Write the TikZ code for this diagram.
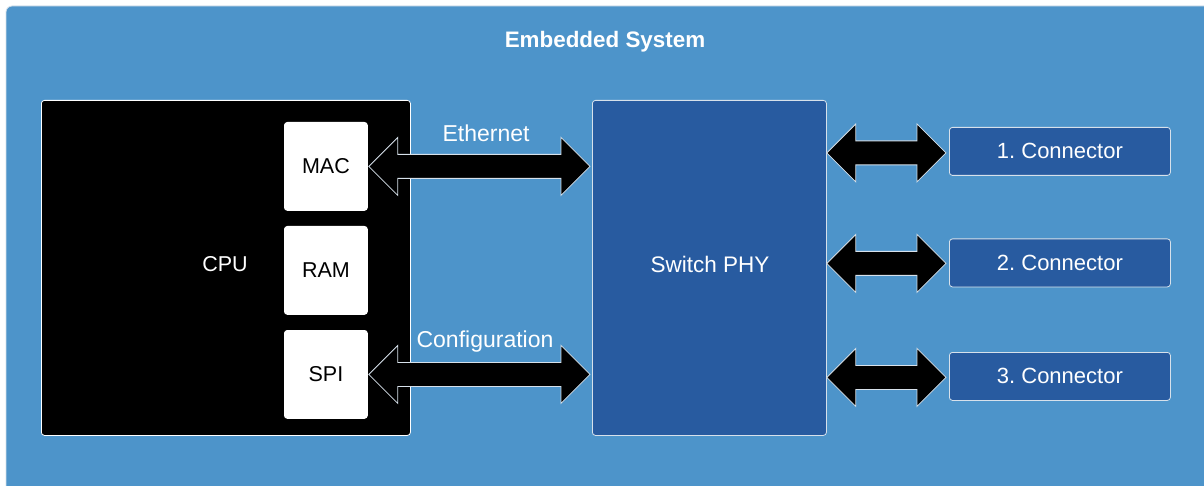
\documentclass[tikz,border=0pt]{standalone}
\usepackage{fontspec}
\setmainfont{Liberation Sans}
\usetikzlibrary{calc}
\definecolor{bgblue}{RGB}{77,148,202}
\definecolor{darkblue}{RGB}{40,91,160}
\definecolor{edge}{RGB}{215,225,235}
\tikzset{
  x=1pt,y=-1pt,
  lbl/.style={font=\fontsize{21.5}{24}\selectfont},
  biglbl/.style={font=\fontsize{23}{26}\selectfont},
  box/.style={draw=edge,line width=0.8pt,rounded corners=3pt,anchor=north west,inner sep=0pt},
  darkbox/.style={box,fill=darkblue,text=white,lbl},
  whitebox/.style={box,fill=white,draw=white,text=black,lbl},
  arrowbody/.style={fill=black,draw=edge,line width=0.8pt,line join=miter},
}
% double arrow polygon between two points (left tip, right tip)
\newcommand\dblarr[2]{%
  \path[arrowbody] let \p1=(#1), \p2=(#2) in
    (\x1,\y1) -- (\x1+29pt,\y1+29pt) -- (\x1+29pt,\y1+12pt) -- (\x2-29pt,\y1+12pt)
    -- (\x2-29pt,\y1+29pt) -- (\x2,\y1) -- (\x2-29pt,\y1-29pt) -- (\x2-29pt,\y1-12pt)
    -- (\x1+29pt,\y1-12pt) -- (\x1+29pt,\y1-29pt) -- cycle;}
\begin{document}
\frenchspacing
\begin{tikzpicture}
\useasboundingbox (0,0) rectangle (1204,486);
\clip (0,0) rectangle (1204,486);
\fill[white] (0,0) rectangle (1204,486);
\draw[fill=bgblue,draw=edge,line width=0.8pt,rounded corners=6pt] (6,6) rectangle (1230,510);
\node[font=\bfseries\fontsize{22.4}{25}\selectfont,text=white] (title) at (605,42) {Embedded System};

% CPU
\node[box,fill=black,draw=white,minimum width=369pt,minimum height=335pt] (cpu) at (41,100) {};
\node[lbl,text=white] (cpulbl) at (225,264) {CPU};
\node[whitebox,minimum width=83pt,minimum height=88pt] (mac) at (284,122) {};
\node[lbl] at (mac.center) {MAC};
\node[whitebox,minimum width=83pt,minimum height=88pt] (ram) at (284,226) {};
\node[lbl] at (ram.center) {RAM};
\node[whitebox,minimum width=83pt,minimum height=88pt] (spi) at (284,330) {};
\node[lbl] at (spi.center) {SPI};

% Switch
\node[darkbox,minimum width=234pt,minimum height=335pt] (sw) at (592,100) {};
\node[font=\fontsize{22.5}{25}\selectfont,text=white] at (710,264) {Switch PHY};

% Connectors
\node[darkbox,minimum width=221pt,minimum height=48pt] (c1) at (949,127) {};
\node[font=\fontsize{22}{25}\selectfont,text=white] at (c1.center) {1. Connector};
\node[darkbox,minimum width=221pt,minimum height=48pt] (c2) at (949,238.5) {};
\node[font=\fontsize{22}{25}\selectfont,text=white] at (c2.center) {2. Connector};
\node[darkbox,minimum width=221pt,minimum height=48pt] (c3) at (949,352) {};
\node[font=\fontsize{22}{25}\selectfont,text=white] at (c3.center) {3. Connector};

% arrows
\coordinate (ethL) at ($(mac.east)+(1pt,0)$);
\coordinate (ethR) at ($(sw.west|-mac.east)+(-2pt,0)$);
\dblarr{ethL}{ethR}
\node[biglbl,text=white] (ethlbl) at (486,133) {Ethernet};

\coordinate (cfgL) at ($(spi.east)+(1pt,0)$);
\coordinate (cfgR) at ($(sw.west|-spi.east)+(-2pt,0)$);
\dblarr{cfgL}{cfgR}
\node[biglbl,text=white] (cfglbl) at (485,342) {Configuration};

\coordinate (a1L) at ($(sw.east|-c1.west)+(0,-1.5pt)$);
\coordinate (a1R) at ($(c1.west)+(-3pt,-1.5pt)$);
\dblarr{a1L}{a1R}
\coordinate (a2L) at ($(sw.east|-c2.west)+(0,-0.5pt)$);
\coordinate (a2R) at ($(c2.west)+(-3pt,-0.5pt)$);
\dblarr{a2L}{a2R}
\coordinate (a3L) at ($(sw.east|-c3.west)+(0,-1pt)$);
\coordinate (a3R) at ($(c3.west)+(-3pt,-1pt)$);
\dblarr{a3L}{a3R}
\end{tikzpicture}
\end{document}
